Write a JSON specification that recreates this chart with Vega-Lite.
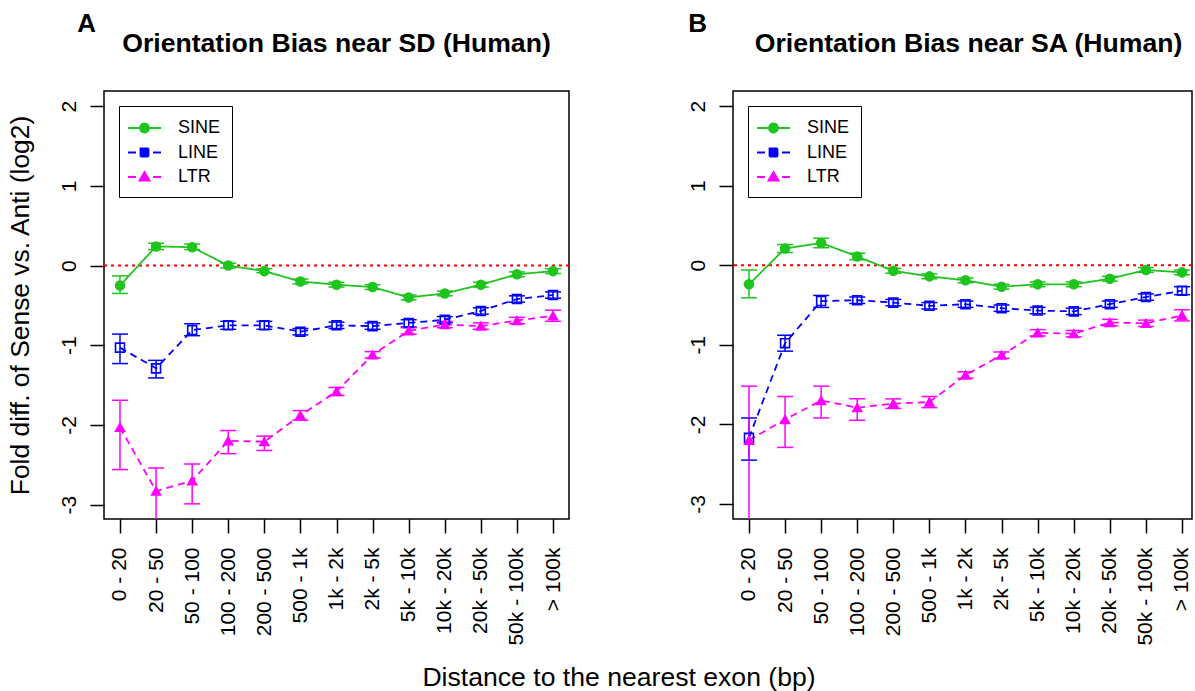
{
  "$schema": "https://vega.github.io/schema/vega-lite/v6.json",
  "padding": {"left": 6, "top": 10, "right": 0, "bottom": 0},
  "autosize": {"type": "pad"},
  "spacing": 115,
  "title": {"text": "Distance to the nearest exon (bp)", "orient": "bottom", "anchor": "middle", "fontSize": 26.6, "fontWeight": "normal", "offset": 19, "dx": 19},
  "datasets": {
    "d": [
      {"panel":"SD","series":"SINE","bin":"0 - 20","value":-0.25,"lo":-0.35,"hi":-0.13},
      {"panel":"SD","series":"SINE","bin":"20 - 50","value":0.24,"lo":0.20,"hi":0.28},
      {"panel":"SD","series":"SINE","bin":"50 - 100","value":0.23,"lo":0.20,"hi":0.27},
      {"panel":"SD","series":"SINE","bin":"100 - 200","value":0.00,"lo":-0.03,"hi":0.03},
      {"panel":"SD","series":"SINE","bin":"200 - 500","value":-0.07,"lo":-0.09,"hi":-0.04},
      {"panel":"SD","series":"SINE","bin":"500 - 1k","value":-0.20,"lo":-0.23,"hi":-0.17},
      {"panel":"SD","series":"SINE","bin":"1k - 2k","value":-0.24,"lo":-0.27,"hi":-0.21},
      {"panel":"SD","series":"SINE","bin":"2k - 5k","value":-0.27,"lo":-0.30,"hi":-0.24},
      {"panel":"SD","series":"SINE","bin":"5k - 10k","value":-0.40,"lo":-0.43,"hi":-0.37},
      {"panel":"SD","series":"SINE","bin":"10k - 20k","value":-0.35,"lo":-0.38,"hi":-0.32},
      {"panel":"SD","series":"SINE","bin":"20k - 50k","value":-0.24,"lo":-0.27,"hi":-0.21},
      {"panel":"SD","series":"SINE","bin":"50k - 100k","value":-0.11,"lo":-0.14,"hi":-0.08},
      {"panel":"SD","series":"SINE","bin":"> 100k","value":-0.07,"lo":-0.10,"hi":-0.04},
      {"panel":"SD","series":"LINE","bin":"0 - 20","value":-1.03,"lo":-1.23,"hi":-0.86},
      {"panel":"SD","series":"LINE","bin":"20 - 50","value":-1.29,"lo":-1.41,"hi":-1.19},
      {"panel":"SD","series":"LINE","bin":"50 - 100","value":-0.81,"lo":-0.88,"hi":-0.73},
      {"panel":"SD","series":"LINE","bin":"100 - 200","value":-0.75,"lo":-0.80,"hi":-0.70},
      {"panel":"SD","series":"LINE","bin":"200 - 500","value":-0.75,"lo":-0.80,"hi":-0.70},
      {"panel":"SD","series":"LINE","bin":"500 - 1k","value":-0.83,"lo":-0.87,"hi":-0.79},
      {"panel":"SD","series":"LINE","bin":"1k - 2k","value":-0.75,"lo":-0.79,"hi":-0.71},
      {"panel":"SD","series":"LINE","bin":"2k - 5k","value":-0.76,"lo":-0.80,"hi":-0.72},
      {"panel":"SD","series":"LINE","bin":"5k - 10k","value":-0.72,"lo":-0.77,"hi":-0.68},
      {"panel":"SD","series":"LINE","bin":"10k - 20k","value":-0.68,"lo":-0.72,"hi":-0.64},
      {"panel":"SD","series":"LINE","bin":"20k - 50k","value":-0.57,"lo":-0.61,"hi":-0.53},
      {"panel":"SD","series":"LINE","bin":"50k - 100k","value":-0.42,"lo":-0.46,"hi":-0.38},
      {"panel":"SD","series":"LINE","bin":"> 100k","value":-0.37,"lo":-0.41,"hi":-0.33},
      {"panel":"SD","series":"LTR","bin":"0 - 20","value":-2.03,"lo":-2.56,"hi":-1.69},
      {"panel":"SD","series":"LTR","bin":"20 - 50","value":-2.83,"lo":-3.30,"hi":-2.54},
      {"panel":"SD","series":"LTR","bin":"50 - 100","value":-2.70,"lo":-2.99,"hi":-2.49},
      {"panel":"SD","series":"LTR","bin":"100 - 200","value":-2.20,"lo":-2.36,"hi":-2.07},
      {"panel":"SD","series":"LTR","bin":"200 - 500","value":-2.21,"lo":-2.32,"hi":-2.14},
      {"panel":"SD","series":"LTR","bin":"500 - 1k","value":-1.88,"lo":-1.94,"hi":-1.82},
      {"panel":"SD","series":"LTR","bin":"1k - 2k","value":-1.58,"lo":-1.63,"hi":-1.53},
      {"panel":"SD","series":"LTR","bin":"2k - 5k","value":-1.12,"lo":-1.16,"hi":-1.08},
      {"panel":"SD","series":"LTR","bin":"5k - 10k","value":-0.82,"lo":-0.86,"hi":-0.78},
      {"panel":"SD","series":"LTR","bin":"10k - 20k","value":-0.74,"lo":-0.78,"hi":-0.70},
      {"panel":"SD","series":"LTR","bin":"20k - 50k","value":-0.76,"lo":-0.80,"hi":-0.72},
      {"panel":"SD","series":"LTR","bin":"50k - 100k","value":-0.69,"lo":-0.73,"hi":-0.65},
      {"panel":"SD","series":"LTR","bin":"> 100k","value":-0.63,"lo":-0.70,"hi":-0.56},
      {"panel":"SA","series":"SINE","bin":"0 - 20","value":-0.24,"lo":-0.41,"hi":-0.06},
      {"panel":"SA","series":"SINE","bin":"20 - 50","value":0.21,"lo":0.16,"hi":0.26},
      {"panel":"SA","series":"SINE","bin":"50 - 100","value":0.28,"lo":0.22,"hi":0.34},
      {"panel":"SA","series":"SINE","bin":"100 - 200","value":0.11,"lo":0.07,"hi":0.15},
      {"panel":"SA","series":"SINE","bin":"200 - 500","value":-0.07,"lo":-0.10,"hi":-0.04},
      {"panel":"SA","series":"SINE","bin":"500 - 1k","value":-0.14,"lo":-0.17,"hi":-0.11},
      {"panel":"SA","series":"SINE","bin":"1k - 2k","value":-0.19,"lo":-0.22,"hi":-0.16},
      {"panel":"SA","series":"SINE","bin":"2k - 5k","value":-0.27,"lo":-0.30,"hi":-0.24},
      {"panel":"SA","series":"SINE","bin":"5k - 10k","value":-0.24,"lo":-0.27,"hi":-0.21},
      {"panel":"SA","series":"SINE","bin":"10k - 20k","value":-0.24,"lo":-0.27,"hi":-0.21},
      {"panel":"SA","series":"SINE","bin":"20k - 50k","value":-0.17,"lo":-0.20,"hi":-0.14},
      {"panel":"SA","series":"SINE","bin":"50k - 100k","value":-0.06,"lo":-0.09,"hi":-0.03},
      {"panel":"SA","series":"SINE","bin":"> 100k","value":-0.09,"lo":-0.12,"hi":-0.06},
      {"panel":"SA","series":"LINE","bin":"0 - 20","value":-2.17,"lo":-2.45,"hi":-1.92},
      {"panel":"SA","series":"LINE","bin":"20 - 50","value":-0.98,"lo":-1.08,"hi":-0.88},
      {"panel":"SA","series":"LINE","bin":"50 - 100","value":-0.45,"lo":-0.53,"hi":-0.38},
      {"panel":"SA","series":"LINE","bin":"100 - 200","value":-0.44,"lo":-0.48,"hi":-0.40},
      {"panel":"SA","series":"LINE","bin":"200 - 500","value":-0.47,"lo":-0.51,"hi":-0.43},
      {"panel":"SA","series":"LINE","bin":"500 - 1k","value":-0.51,"lo":-0.55,"hi":-0.47},
      {"panel":"SA","series":"LINE","bin":"1k - 2k","value":-0.49,"lo":-0.53,"hi":-0.45},
      {"panel":"SA","series":"LINE","bin":"2k - 5k","value":-0.54,"lo":-0.58,"hi":-0.50},
      {"panel":"SA","series":"LINE","bin":"5k - 10k","value":-0.57,"lo":-0.61,"hi":-0.53},
      {"panel":"SA","series":"LINE","bin":"10k - 20k","value":-0.58,"lo":-0.62,"hi":-0.54},
      {"panel":"SA","series":"LINE","bin":"20k - 50k","value":-0.49,"lo":-0.53,"hi":-0.45},
      {"panel":"SA","series":"LINE","bin":"50k - 100k","value":-0.40,"lo":-0.44,"hi":-0.36},
      {"panel":"SA","series":"LINE","bin":"> 100k","value":-0.32,"lo":-0.37,"hi":-0.27},
      {"panel":"SA","series":"LTR","bin":"0 - 20","value":-2.20,"lo":-3.30,"hi":-1.52},
      {"panel":"SA","series":"LTR","bin":"20 - 50","value":-1.94,"lo":-2.29,"hi":-1.65},
      {"panel":"SA","series":"LTR","bin":"50 - 100","value":-1.70,"lo":-1.92,"hi":-1.52},
      {"panel":"SA","series":"LTR","bin":"100 - 200","value":-1.79,"lo":-1.95,"hi":-1.68},
      {"panel":"SA","series":"LTR","bin":"200 - 500","value":-1.74,"lo":-1.80,"hi":-1.68},
      {"panel":"SA","series":"LTR","bin":"500 - 1k","value":-1.72,"lo":-1.79,"hi":-1.65},
      {"panel":"SA","series":"LTR","bin":"1k - 2k","value":-1.38,"lo":-1.42,"hi":-1.34},
      {"panel":"SA","series":"LTR","bin":"2k - 5k","value":-1.13,"lo":-1.17,"hi":-1.09},
      {"panel":"SA","series":"LTR","bin":"5k - 10k","value":-0.85,"lo":-0.89,"hi":-0.81},
      {"panel":"SA","series":"LTR","bin":"10k - 20k","value":-0.86,"lo":-0.90,"hi":-0.82},
      {"panel":"SA","series":"LTR","bin":"20k - 50k","value":-0.72,"lo":-0.76,"hi":-0.68},
      {"panel":"SA","series":"LTR","bin":"50k - 100k","value":-0.73,"lo":-0.77,"hi":-0.69},
      {"panel":"SA","series":"LTR","bin":"> 100k","value":-0.63,"lo":-0.70,"hi":-0.56}
    ]
  },
  "hconcat": [
    {
      "title": {"text": "A", "anchor": "start", "frame": "bounds", "fontSize": 26, "fontWeight": "bold", "dx": 71, "offset": -6},
      "hconcat": [
        {
          "width": 465,
          "height": 428,
          "title": {"text": "Orientation Bias near SD (Human)", "anchor": "middle", "fontSize": 26.6, "fontWeight": "bold", "offset": 33},
          "data": {"name": "d"},
          "transform": [{"filter": "datum.panel === 'SD'"}],
          "layer": [
            {
              "data": {"values": [{}]},
              "transform": [],
              "mark": {"type": "rule", "color": "#FF0000", "strokeDash": [3, 4], "strokeWidth": 2},
              "encoding": {"y": {"datum": 0, "type": "quantitative", "scale": {"domain": [-3.18, 2.19], "nice": false, "zero": false}, "axis": {"title": "Fold diff. of Sense vs. Anti (log2)", "values": [-3, -2, -1, 0, 1, 2], "labelExpr": "'' + datum.value"}}}
            },
            {
              "mark": {"type": "line", "strokeWidth": 1.8},
              "encoding": {
                "x": {"field": "bin", "type": "ordinal", "sort": ["0 - 20","20 - 50","50 - 100","100 - 200","200 - 500","500 - 1k","1k - 2k","2k - 5k","5k - 10k","10k - 20k","20k - 50k","50k - 100k","> 100k"], "scale": {"type": "point", "padding": 0.443}, "axis": {"title": null}},
                "y": {"field": "value", "type": "quantitative", "scale": {"domain": [-3.18, 2.19], "nice": false, "zero": false}, "axis": {"title": "Fold diff. of Sense vs. Anti (log2)", "values": [-3, -2, -1, 0, 1, 2], "labelExpr": "'' + datum.value"}},
                "color": {"field": "series", "type": "nominal", "scale": {"domain": ["SINE", "LINE", "LTR"], "range": ["#1fc41f", "#0000FF", "#FF00FF"]},
                  "legend": {"encode": {"symbols": {"update": {
                    "shape": {"signal": "datum.value === 'SINE' ? 'M-1.3,0H2M-0.1,0A0.45,0.45,0,1,0,0.8,0A0.45,0.45,0,1,0,-0.1,0Z' : datum.value === 'LINE' ? 'M-1.3,0H-0.5M-0.05,0H0.75M1.2,0H2M-0.05,-0.4H0.75V0.4H-0.05Z' : 'M-1.3,0H-0.5M1.2,0H2M0.35,-0.5L0.85,0.35H-0.15Z'"},
                    "fill": {"signal": "datum.value === 'SINE' ? '#1fc41f' : datum.value === 'LINE' ? 'transparent' : '#FF00FF'"},
                    "stroke": {"signal": "datum.value === 'SINE' ? '#1fc41f' : datum.value === 'LINE' ? '#0000FF' : '#FF00FF'"},
                    "strokeDash": {"value": [1, 0]},
                    "strokeWidth": {"value": 1.8},
                    "size": {"value": 400},
                    "opacity": {"value": 1}
                  }}}}},
                "strokeDash": {"field": "series", "type": "nominal", "scale": {"domain": ["SINE", "LINE", "LTR"], "range": [[1, 0], [7, 5], [7, 5]]}, "legend": null}
              }
            },
            {
              "mark": {"type": "rule", "strokeWidth": 1.5, "clip": true},
              "encoding": {
                "x": {"field": "bin", "type": "ordinal", "sort": ["0 - 20","20 - 50","50 - 100","100 - 200","200 - 500","500 - 1k","1k - 2k","2k - 5k","5k - 10k","10k - 20k","20k - 50k","50k - 100k","> 100k"], "axis": {"title": null}},
                "y": {"field": "lo", "type": "quantitative", "axis": {"title": "Fold diff. of Sense vs. Anti (log2)", "values": [-3, -2, -1, 0, 1, 2], "labelExpr": "'' + datum.value"}},
                "y2": {"field": "hi"},
                "color": {"field": "series", "type": "nominal"}
              }
            },
            {
              "mark": {"type": "tick", "orient": "horizontal", "size": 16, "thickness": 1.5, "clip": true, "opacity": 1},
              "encoding": {
                "x": {"field": "bin", "type": "ordinal", "sort": ["0 - 20","20 - 50","50 - 100","100 - 200","200 - 500","500 - 1k","1k - 2k","2k - 5k","5k - 10k","10k - 20k","20k - 50k","50k - 100k","> 100k"], "axis": {"title": null}},
                "y": {"field": "lo", "type": "quantitative", "axis": {"title": "Fold diff. of Sense vs. Anti (log2)", "values": [-3, -2, -1, 0, 1, 2], "labelExpr": "'' + datum.value"}},
                "color": {"field": "series", "type": "nominal"}
              }
            },
            {
              "mark": {"type": "tick", "orient": "horizontal", "size": 16, "thickness": 1.5, "clip": true, "opacity": 1},
              "encoding": {
                "x": {"field": "bin", "type": "ordinal", "sort": ["0 - 20","20 - 50","50 - 100","100 - 200","200 - 500","500 - 1k","1k - 2k","2k - 5k","5k - 10k","10k - 20k","20k - 50k","50k - 100k","> 100k"], "axis": {"title": null}},
                "y": {"field": "hi", "type": "quantitative", "axis": {"title": "Fold diff. of Sense vs. Anti (log2)", "values": [-3, -2, -1, 0, 1, 2], "labelExpr": "'' + datum.value"}},
                "color": {"field": "series", "type": "nominal"}
              }
            },
            {
              "mark": {"type": "point", "filled": false, "strokeWidth": 1.6, "opacity": 1},
              "encoding": {
                "x": {"field": "bin", "type": "ordinal", "sort": ["0 - 20","20 - 50","50 - 100","100 - 200","200 - 500","500 - 1k","1k - 2k","2k - 5k","5k - 10k","10k - 20k","20k - 50k","50k - 100k","> 100k"], "axis": {"title": null}},
                "y": {"field": "value", "type": "quantitative", "axis": {"title": "Fold diff. of Sense vs. Anti (log2)", "values": [-3, -2, -1, 0, 1, 2], "labelExpr": "'' + datum.value"}},
                "color": {"field": "series", "type": "nominal"},
                "shape": {"field": "series", "type": "nominal", "scale": {"domain": ["SINE", "LINE", "LTR"], "range": ["circle", "square", "triangle-up"]}, "legend": null},
                "fill": {"field": "series", "type": "nominal", "scale": {"domain": ["SINE", "LINE", "LTR"], "range": ["#1fc41f", "transparent", "#FF00FF"]}, "legend": null},
                "size": {"field": "series", "type": "nominal", "scale": {"domain": ["SINE", "LINE", "LTR"], "range": [80, 80, 110]}, "legend": null}
              }
            }
          ]
        }
      ]
    },
    {
      "title": {"text": "B", "anchor": "start", "frame": "bounds", "fontSize": 26, "fontWeight": "bold", "dx": 2, "offset": -6},
      "hconcat": [
        {
          "width": 459,
          "height": 428,
          "title": {"text": "Orientation Bias near SA (Human)", "anchor": "middle", "fontSize": 26.6, "fontWeight": "bold", "offset": 33, "dx": 6},
          "data": {"name": "d"},
          "transform": [{"filter": "datum.panel === 'SA'"}],
          "layer": [
            {
              "data": {"values": [{}]},
              "transform": [],
              "mark": {"type": "rule", "color": "#FF0000", "strokeDash": [3, 4], "strokeWidth": 2},
              "encoding": {"y": {"datum": 0, "type": "quantitative", "scale": {"domain": [-3.19, 2.19], "nice": false, "zero": false}, "axis": {"title": null, "values": [-3, -2, -1, 0, 1, 2], "labelExpr": "'' + datum.value"}}}
            },
            {
              "mark": {"type": "line", "strokeWidth": 1.8},
              "encoding": {
                "x": {"field": "bin", "type": "ordinal", "sort": ["0 - 20","20 - 50","50 - 100","100 - 200","200 - 500","500 - 1k","1k - 2k","2k - 5k","5k - 10k","10k - 20k","20k - 50k","50k - 100k","> 100k"], "scale": {"type": "point", "padding": 0.36, "align": 0.615}, "axis": {"title": null}},
                "y": {"field": "value", "type": "quantitative", "scale": {"domain": [-3.19, 2.19], "nice": false, "zero": false}, "axis": {"title": null, "values": [-3, -2, -1, 0, 1, 2], "labelExpr": "'' + datum.value"}},
                "color": {"field": "series", "type": "nominal", "scale": {"domain": ["SINE", "LINE", "LTR"], "range": ["#1fc41f", "#0000FF", "#FF00FF"]},
                  "legend": {"encode": {"symbols": {"update": {
                    "shape": {"signal": "datum.value === 'SINE' ? 'M-1.3,0H2M-0.1,0A0.45,0.45,0,1,0,0.8,0A0.45,0.45,0,1,0,-0.1,0Z' : datum.value === 'LINE' ? 'M-1.3,0H-0.5M-0.05,0H0.75M1.2,0H2M-0.05,-0.4H0.75V0.4H-0.05Z' : 'M-1.3,0H-0.5M1.2,0H2M0.35,-0.5L0.85,0.35H-0.15Z'"},
                    "fill": {"signal": "datum.value === 'SINE' ? '#1fc41f' : datum.value === 'LINE' ? 'transparent' : '#FF00FF'"},
                    "stroke": {"signal": "datum.value === 'SINE' ? '#1fc41f' : datum.value === 'LINE' ? '#0000FF' : '#FF00FF'"},
                    "strokeDash": {"value": [1, 0]},
                    "strokeWidth": {"value": 1.8},
                    "size": {"value": 400},
                    "opacity": {"value": 1}
                  }}}}},
                "strokeDash": {"field": "series", "type": "nominal", "scale": {"domain": ["SINE", "LINE", "LTR"], "range": [[1, 0], [7, 5], [7, 5]]}, "legend": null}
              }
            },
            {
              "mark": {"type": "rule", "strokeWidth": 1.5, "clip": true},
              "encoding": {
                "x": {"field": "bin", "type": "ordinal", "sort": ["0 - 20","20 - 50","50 - 100","100 - 200","200 - 500","500 - 1k","1k - 2k","2k - 5k","5k - 10k","10k - 20k","20k - 50k","50k - 100k","> 100k"], "axis": {"title": null}},
                "y": {"field": "lo", "type": "quantitative", "axis": {"title": null, "values": [-3, -2, -1, 0, 1, 2], "labelExpr": "'' + datum.value"}},
                "y2": {"field": "hi"},
                "color": {"field": "series", "type": "nominal"}
              }
            },
            {
              "mark": {"type": "tick", "orient": "horizontal", "size": 16, "thickness": 1.5, "clip": true, "opacity": 1},
              "encoding": {
                "x": {"field": "bin", "type": "ordinal", "sort": ["0 - 20","20 - 50","50 - 100","100 - 200","200 - 500","500 - 1k","1k - 2k","2k - 5k","5k - 10k","10k - 20k","20k - 50k","50k - 100k","> 100k"], "axis": {"title": null}},
                "y": {"field": "lo", "type": "quantitative", "axis": {"title": null, "values": [-3, -2, -1, 0, 1, 2], "labelExpr": "'' + datum.value"}},
                "color": {"field": "series", "type": "nominal"}
              }
            },
            {
              "mark": {"type": "tick", "orient": "horizontal", "size": 16, "thickness": 1.5, "clip": true, "opacity": 1},
              "encoding": {
                "x": {"field": "bin", "type": "ordinal", "sort": ["0 - 20","20 - 50","50 - 100","100 - 200","200 - 500","500 - 1k","1k - 2k","2k - 5k","5k - 10k","10k - 20k","20k - 50k","50k - 100k","> 100k"], "axis": {"title": null}},
                "y": {"field": "hi", "type": "quantitative", "axis": {"title": null, "values": [-3, -2, -1, 0, 1, 2], "labelExpr": "'' + datum.value"}},
                "color": {"field": "series", "type": "nominal"}
              }
            },
            {
              "mark": {"type": "point", "filled": false, "strokeWidth": 1.6, "opacity": 1},
              "encoding": {
                "x": {"field": "bin", "type": "ordinal", "sort": ["0 - 20","20 - 50","50 - 100","100 - 200","200 - 500","500 - 1k","1k - 2k","2k - 5k","5k - 10k","10k - 20k","20k - 50k","50k - 100k","> 100k"], "axis": {"title": null}},
                "y": {"field": "value", "type": "quantitative", "axis": {"title": null, "values": [-3, -2, -1, 0, 1, 2], "labelExpr": "'' + datum.value"}},
                "color": {"field": "series", "type": "nominal"},
                "shape": {"field": "series", "type": "nominal", "scale": {"domain": ["SINE", "LINE", "LTR"], "range": ["circle", "square", "triangle-up"]}, "legend": null},
                "fill": {"field": "series", "type": "nominal", "scale": {"domain": ["SINE", "LINE", "LTR"], "range": ["#1fc41f", "transparent", "#FF00FF"]}, "legend": null},
                "size": {"field": "series", "type": "nominal", "scale": {"domain": ["SINE", "LINE", "LTR"], "range": [80, 80, 110]}, "legend": null}
              }
            }
          ]
        }
      ]
    }
  ],
  "resolve": {"scale": {"color": "independent", "x": "independent", "y": "independent"}, "legend": {"color": "independent"}},
  "config": {
    "font": "Liberation Sans",
    "view": {"stroke": "black", "strokeWidth": 1.5},
    "title": {"font": "Liberation Sans", "color": "black"},
    "axis": {"labelFont": "Liberation Sans", "titleFont": "Liberation Sans", "labelColor": "black", "titleColor": "black", "tickColor": "black", "grid": false, "domain": false, "tickSize": 14, "tickWidth": 1.5, "labelFontSize": 21, "titleFontSize": 26.4, "titleFontWeight": "normal"},
    "axisX": {"labelAngle": 270, "labelAlign": "right", "labelBaseline": "middle", "labelPadding": 14},
    "axisY": {"labelAngle": 270, "labelAlign": "center", "labelBaseline": "bottom", "labelPadding": 11, "titlePadding": 24},
    "legend": {
      "orient": "top-left",
      "offset": 15,
      "padding": 11,
      "title": null,
      "strokeColor": "black",
      "fillColor": "white",
      "labelFont": "Liberation Sans",
      "labelFontSize": 18,
      "labelColor": "black",
      "symbolSize": 400,
      "labelOffset": 26,
      "rowPadding": 4.5,
      "symbolStrokeWidth": 1.8,
      "cornerRadius": 0
    }
  }
}
